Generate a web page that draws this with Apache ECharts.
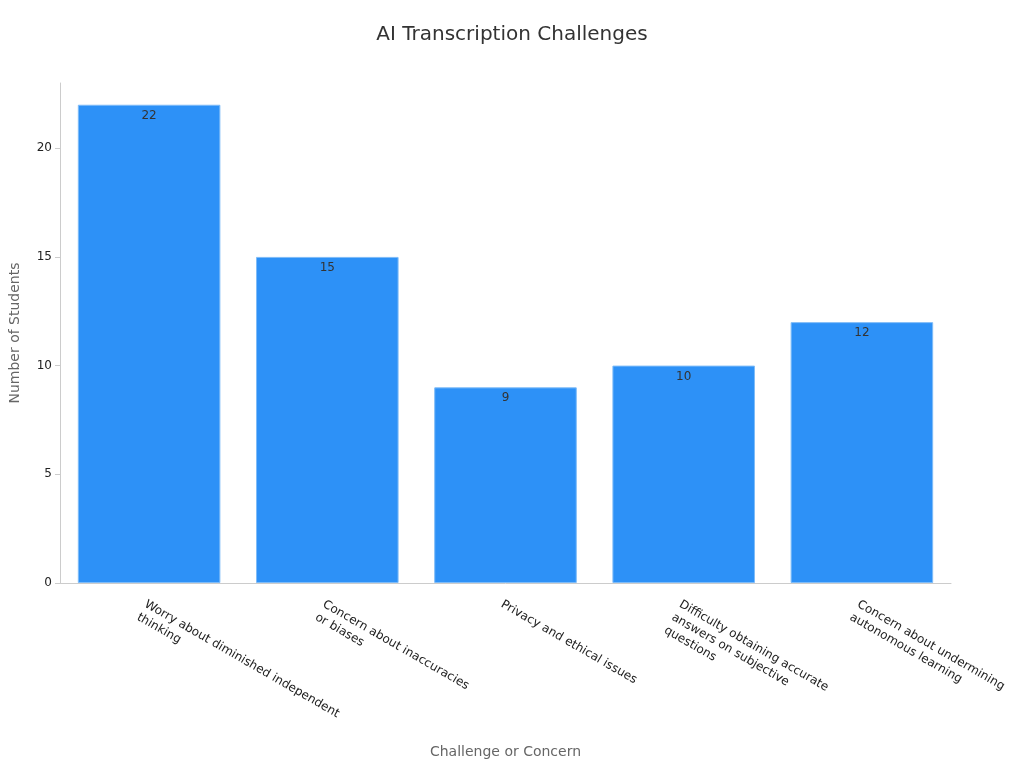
<!DOCTYPE html>
<html><head><meta charset="utf-8">
<script src="https://cdn.jsdelivr.net/npm/echarts@6/dist/echarts.min.js"></script>
<style>html,body{margin:0;padding:0;}#c{width:1024px;height:768px;}</style>
</head><body><div id="c"></div>
<script>
const categories = ["Worry about diminished independent\nthinking","Concern about inaccuracies\nor biases","Privacy and ethical issues","Difficulty obtaining accurate\nanswers on subjective\nquestions","Concern about undermining\nautonomous learning"];
const values = [22, 15, 9, 10, 12];
const chart = echarts.init(document.getElementById('c'));
chart.setOption({
  textStyle:{fontFamily:'DejaVu Sans'},
  title:{text:'AI Transcription Challenges',left:'center',top:20,textStyle:{fontSize:20,fontWeight:'normal',color:'#333',fontFamily:'DejaVu Sans'}},
  grid:{left:56,right:73,top:83,bottom:185,containLabel:false},
  xAxis:{type:'category',data:categories,name:'Challenge or Concern',nameLocation:'middle',nameGap:162,
    nameTextStyle:{color:'#666',fontSize:14},
    axisLine:{lineStyle:{color:'#ccc'}},axisTick:{alignWithLabel:true,lineStyle:{color:'#ccc'}},
    axisLabel:{rotate:-30,color:'#222',fontSize:12,interval:0,align:'left',verticalAlign:'top',margin:14,lineHeight:15}},
  yAxis:{type:'value',min:0,max:23,interval:5,name:'Number of Students',nameLocation:'middle',nameGap:38,
    nameTextStyle:{color:'#666',fontSize:14},
    axisLine:{show:true,lineStyle:{color:'#ccc'}},axisTick:{show:true,lineStyle:{color:'#ccc'}},
    axisLabel:{color:'#222',fontSize:12,showMaxLabel:false},splitLine:{show:false}},
  series:[{type:'bar',data:values,barWidth:'80%',
    itemStyle:{color:'#2d91f7',borderColor:'#7fbcf8',borderWidth:1},
    label:{show:true,position:'insideTop',color:'#333',fontSize:12}}]
});
</script></body></html>
